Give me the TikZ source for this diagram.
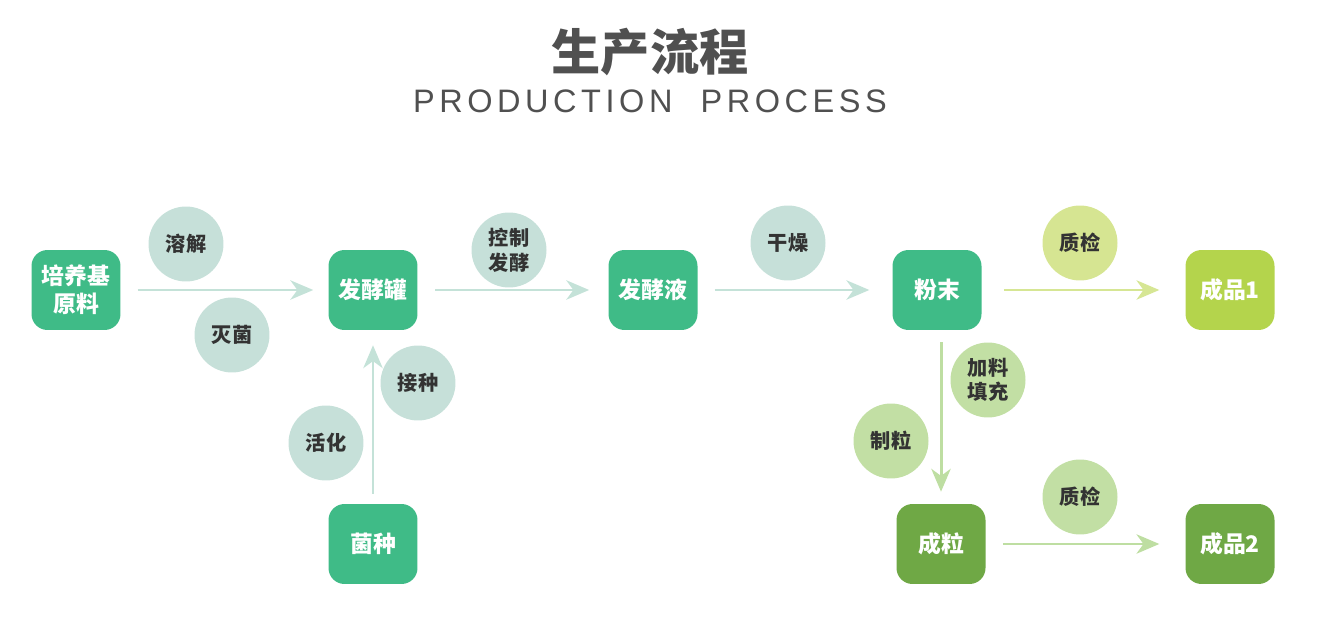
\documentclass[tikz,border=0pt]{standalone}
\usepackage{fontspec}
\setmainfont{Noto Sans CJK SC}
\newfontfamily\titlelatin[LetterSpace=14]{Liberation Sans}
\usetikzlibrary{arrows.meta, positioning}
\definecolor{titlegray}{RGB}{80, 80, 80}
\definecolor{textdark}{RGB}{51, 51, 51}
\definecolor{boxteal}{RGB}{63, 187, 135}
\definecolor{boxlime}{RGB}{180, 212, 76}
\definecolor{boxolive}{RGB}{111, 168, 69}
\definecolor{dotteal}{RGB}{198, 224, 217}
\definecolor{dotlime}{RGB}{214, 229, 146}
\definecolor{dotgreen}{RGB}{194, 223, 164}
\definecolor{lineteal}{RGB}{196, 226, 216}
\definecolor{linelime}{RGB}{214, 230, 148}
\definecolor{linegreen}{RGB}{190, 222, 162}

\begin{document}
\begin{tikzpicture}[x=0.02cm, y=-0.02cm,
    stage/.style={rounded corners=0.32cm, minimum width=1.78cm, minimum height=1.6cm,
      text=white, font=\fontsize{13}{16}\selectfont\bfseries, align=center, inner sep=0pt},
    dot/.style={circle, minimum size=1.5cm, inner sep=0pt, text=textdark,
      font=\fontsize{11.5}{14}\selectfont\bfseries, align=center},
    flow/.style={line width=1.7pt, -{Stealth[length=13pt, width=11pt, inset=4pt]}}]
  \useasboundingbox (0,0) rectangle (1338,631);

  \node[font=\fontsize{28}{32}\selectfont\bfseries, text=titlegray] (title) at (650,52) {生产流程};
  \node[font=\fontsize{18.5}{22}\selectfont\titlelatin, text=titlegray] (subtitle) at (650,101) {PRODUCTION\hspace{16pt}PROCESS};

  % main stages
  \node[stage, fill=boxteal] (media) at (76,290) {培养基\\原料};
  \node[stage, fill=boxteal] (tank) at (373,290) {发酵罐};
  \node[stage, fill=boxteal] (broth) at (653,290) {发酵液};
  \node[stage, fill=boxteal] (powder) at (937,290) {粉末};
  \node[stage, fill=boxlime] (prodA) at (1230,290) {成品1};
  \node[stage, fill=boxteal] (seed) at (373,544) {菌种};
  \node[stage, fill=boxolive] (granule) at (941,544) {成粒};
  \node[stage, fill=boxolive] (prodB) at (1230,544) {成品2};

  % step bubbles
  \node[dot, fill=dotteal] (dissolve) at (186,244) {溶解};
  \node[dot, fill=dotteal] (sterile) at (232,335) {灭菌};
  \node[dot, fill=dotteal] (control) at (509,250) {控制\\发酵};
  \node[dot, fill=dotteal] (dry) at (788,243) {干燥};
  \node[dot, fill=dotlime] (checkA) at (1080,243) {质检};
  \node[dot, fill=dotteal] (inoc) at (418,383) {接种};
  \node[dot, fill=dotteal] (activ) at (326,443) {活化};
  \node[dot, fill=dotgreen] (fill) at (988,380) {加料\\填充};
  \node[dot, fill=dotgreen] (gran) at (891,441) {制粒};
  \node[dot, fill=dotgreen] (checkB) at (1080,497) {质检};

  % arrows
  \draw[flow, lineteal, shorten <=9.6pt, shorten >=8.5pt] (media) -- (tank);
  \draw[flow, lineteal, shorten <=10pt, shorten >=10.8pt] (tank) -- (broth);
  \draw[flow, lineteal, shorten <=9.6pt, shorten >=13pt] (broth) -- (powder);
  \draw[flow, linelime, shorten <=12.5pt, shorten >=14.7pt] (powder) -- (prodA);
  \draw[flow, lineteal, shorten <=5.7pt, shorten >=8.5pt] (seed) -- (tank);
  \draw[flow, linegreen, shorten <=6.8pt, shorten >=6.8pt] (powder.south -| granule) -- (granule);
  \draw[flow, linegreen, shorten <=10pt, shorten >=14.7pt] (granule) -- (prodB);
\end{tikzpicture}
\end{document}
